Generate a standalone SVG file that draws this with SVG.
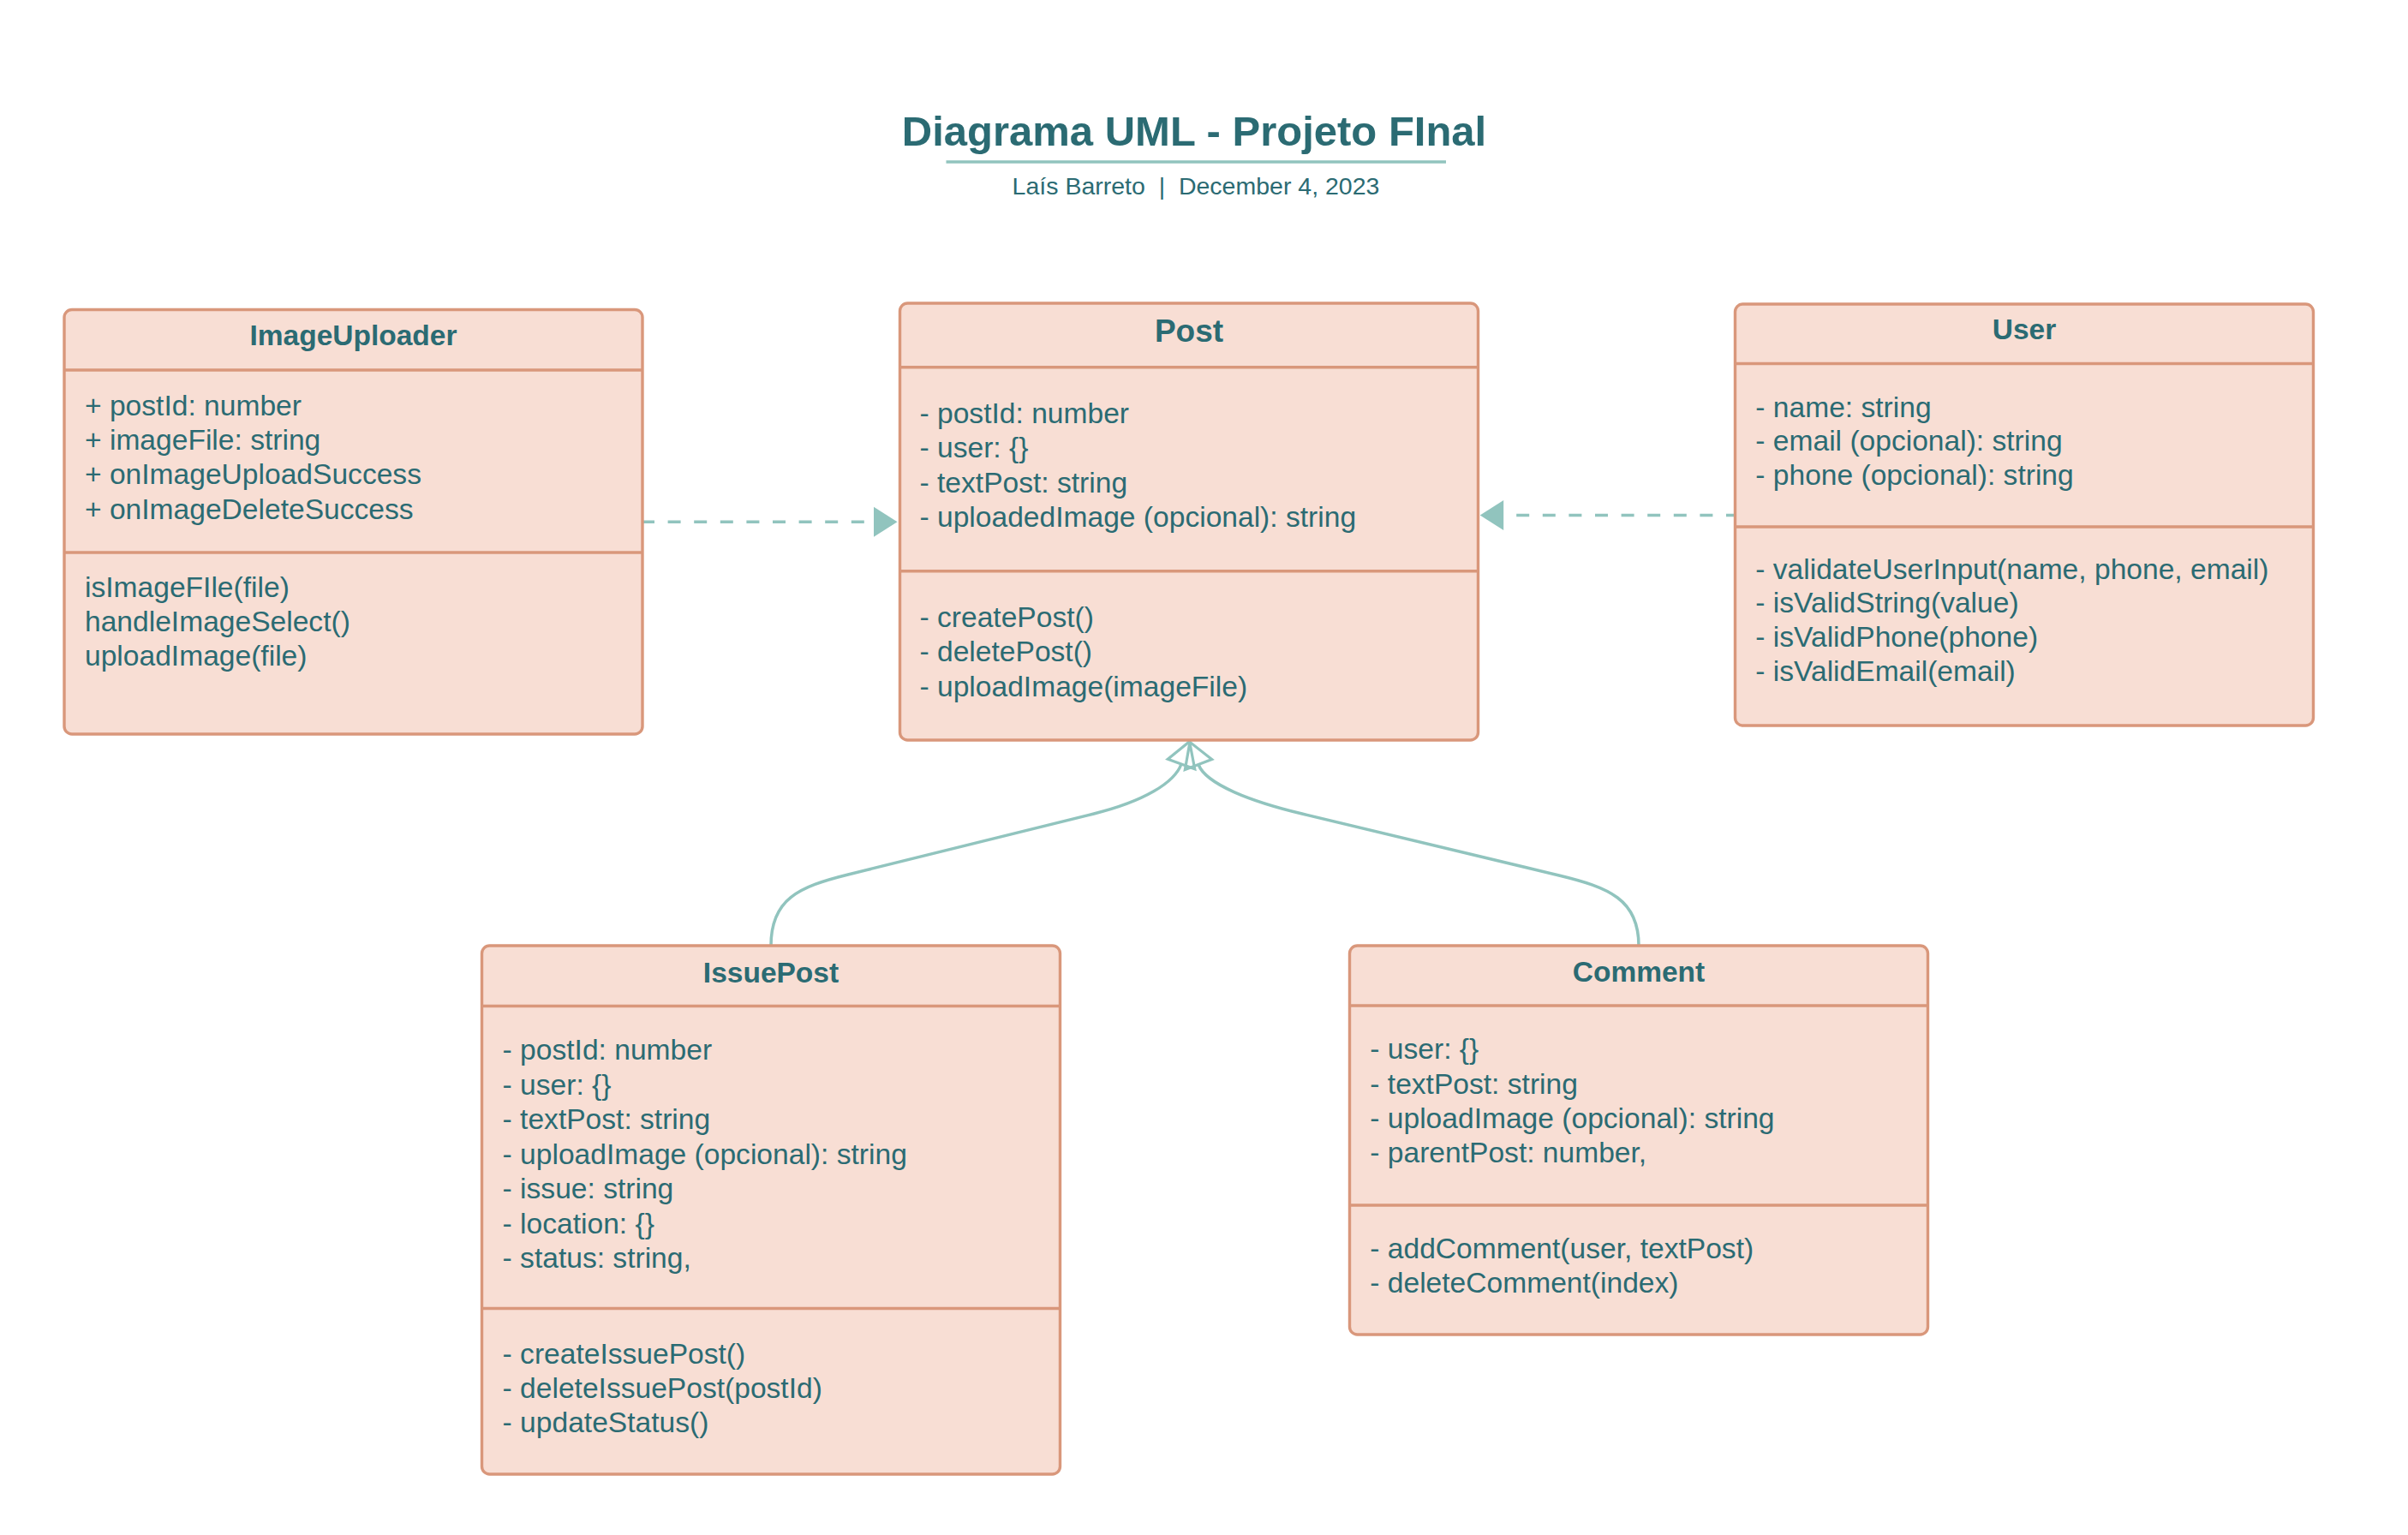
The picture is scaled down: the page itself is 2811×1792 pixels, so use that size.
<svg xmlns="http://www.w3.org/2000/svg" width="2811" height="1792" viewBox="0 0 2811 1792">
<style>
.box{fill:#F8DED4;stroke:#D9977B;stroke-width:3.4}
.div{stroke:#D9977B;stroke-width:3.4}
.t{font-family:"Liberation Sans",Arial,sans-serif;fill:#2B6B73}
.hd{font-size:33.5px;font-weight:bold;text-anchor:middle}
.tx{font-size:33.6px}
.dash{fill:none;stroke:#91C4BE;stroke-width:3.6;stroke-dasharray:15 15.6}
.curve{fill:none;stroke:#91C4BE;stroke-width:3.5}
</style>
<defs>
<marker id="filled" markerUnits="userSpaceOnUse" markerWidth="30" markerHeight="36" refX="27.5" refY="17.5" orient="auto" overflow="visible">
<path d="M0,0 L27.5,17.5 L0,35 Z" fill="#91C4BE"/>
</marker>
<marker id="hollow" markerUnits="userSpaceOnUse" markerWidth="30" markerHeight="36" refX="0" refY="16.75" orient="auto" overflow="visible">
<path d="M0,0 L28,16.75 L0,33.5 Z" fill="none" stroke="#91C4BE" stroke-width="3.2" stroke-linejoin="miter"/>
</marker>
</defs>
<rect width="2811" height="1792" fill="#ffffff"/>

<g id="title">
<text class="t" x="1394" y="170" font-size="49" font-weight="bold" text-anchor="middle">Diagrama UML - Projeto FInal</text>
<line x1="1104.5" y1="189" x2="1688" y2="189" stroke="#91C4BE" stroke-width="3.6"/>
<text class="t" x="1396" y="226.5" font-size="28.5" text-anchor="middle" style="white-space:pre" xml:space="preserve">Laís Barreto  |  December 4, 2023</text>
</g>

<g id="connectors">
<path class="dash" d="M749,609.2 L1047.5,609.2" marker-end="url(#filled)"/>
<path class="dash" d="M2030,601.5 L1727.7,601.5" marker-end="url(#filled)"/>
<path class="curve" d="M900,1104 C900,1050 931.7,1035.4 990,1021 L1277,950 C1335,935.6 1371,914 1379,892" marker-end="url(#hollow)"/>
<path class="curve" d="M1913,1104 C1913,1050 1878,1036 1820,1022 L1520,950 C1461.7,936 1408,916 1399,892.5" marker-end="url(#hollow)"/>
</g>

<g id="ImageUploader">
<rect class="box" x="75" y="361.5" width="675" height="495.5" rx="9"/>
<line class="div" x1="75" y1="432" x2="750" y2="432"/>
<line class="div" x1="75" y1="645" x2="750" y2="645"/>
<text class="t hd" x="412.5" y="403">ImageUploader</text>
<text class="t tx" x="99" y="485">+ postId: number</text>
<text class="t tx" x="99" y="525.2">+ imageFile: string</text>
<text class="t tx" x="99" y="565.3">+ onImageUploadSuccess</text>
<text class="t tx" x="99" y="605.5">+ onImageDeleteSuccess</text>
<text class="t tx" x="99" y="697">isImageFIle(file)</text>
<text class="t tx" x="99" y="737.2">handleImageSelect()</text>
<text class="t tx" x="99" y="777.4">uploadImage(file)</text>
</g>

<g id="Post">
<rect class="box" x="1050.5" y="354" width="675" height="510" rx="9"/>
<line class="div" x1="1050.5" y1="428.7" x2="1725.5" y2="428.7"/>
<line class="div" x1="1050.5" y1="666.7" x2="1725.5" y2="666.7"/>
<text class="t hd" x="1388" y="398.5" style="font-size:37px">Post</text>
<text class="t tx" x="1073.5" y="493.5">- postId: number</text>
<text class="t tx" x="1073.5" y="534">- user: {}</text>
<text class="t tx" x="1073.5" y="574.5">- textPost: string</text>
<text class="t tx" x="1073.5" y="615">- uploadedImage (opcional): string</text>
<text class="t tx" x="1073.5" y="732.2">- createPost()</text>
<text class="t tx" x="1073.5" y="772.4">- deletePost()</text>
<text class="t tx" x="1073.5" y="812.6">- uploadImage(imageFile)</text>
</g>

<g id="User">
<rect class="box" x="2025.5" y="355" width="675" height="492" rx="9"/>
<line class="div" x1="2025.5" y1="424.5" x2="2700.5" y2="424.5"/>
<line class="div" x1="2025.5" y1="615" x2="2700.5" y2="615"/>
<text class="t hd" x="2363" y="395.7">User</text>
<text class="t tx" x="2049.3" y="486.5">- name: string</text>
<text class="t tx" x="2049.3" y="526.3">- email (opcional): string</text>
<text class="t tx" x="2049.3" y="566.1">- phone (opcional): string</text>
<text class="t tx" x="2049.3" y="675.5">- validateUserInput(name, phone, email)</text>
<text class="t tx" x="2049.3" y="715.3">- isValidString(value)</text>
<text class="t tx" x="2049.3" y="755.1">- isValidPhone(phone)</text>
<text class="t tx" x="2049.3" y="794.9">- isValidEmail(email)</text>
</g>

<g id="IssuePost">
<rect class="box" x="562.5" y="1104" width="675" height="617" rx="9"/>
<line class="div" x1="562.5" y1="1174.5" x2="1237.5" y2="1174.5"/>
<line class="div" x1="562.5" y1="1527.5" x2="1237.5" y2="1527.5"/>
<text class="t hd" x="900" y="1147">IssuePost</text>
<text class="t tx" x="586.6" y="1237.3">- postId: number</text>
<text class="t tx" x="586.6" y="1277.8">- user: {}</text>
<text class="t tx" x="586.6" y="1318.3">- textPost: string</text>
<text class="t tx" x="586.6" y="1358.8">- uploadImage (opcional): string</text>
<text class="t tx" x="586.6" y="1399.3">- issue: string</text>
<text class="t tx" x="586.6" y="1439.8">- location: {}</text>
<text class="t tx" x="586.6" y="1480.3">- status: string,</text>
<text class="t tx" x="586.6" y="1591.5">- createIssuePost()</text>
<text class="t tx" x="586.6" y="1631.8">- deleteIssuePost(postId)</text>
<text class="t tx" x="586.6" y="1672.1">- updateStatus()</text>
</g>

<g id="Comment">
<rect class="box" x="1575.5" y="1104" width="675" height="454" rx="9"/>
<line class="div" x1="1575.5" y1="1174" x2="2250.5" y2="1174"/>
<line class="div" x1="1575.5" y1="1407" x2="2250.5" y2="1407"/>
<text class="t hd" x="1913" y="1146">Comment</text>
<text class="t tx" x="1599.3" y="1236.3">- user: {}</text>
<text class="t tx" x="1599.3" y="1276.5">- textPost: string</text>
<text class="t tx" x="1599.3" y="1316.8">- uploadImage (opcional): string</text>
<text class="t tx" x="1599.3" y="1357">- parentPost: number,</text>
<text class="t tx" x="1599.3" y="1468.6">- addComment(user, textPost)</text>
<text class="t tx" x="1599.3" y="1508.8">- deleteComment(index)</text>
</g>
</svg>
